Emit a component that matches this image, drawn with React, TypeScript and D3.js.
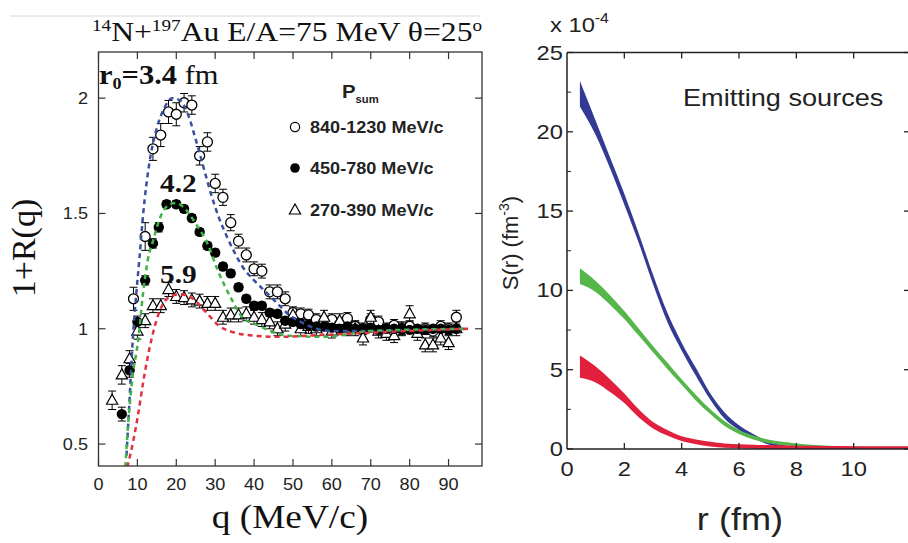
import React from "react";
import * as d3 from "d3";

// ---------- Left panel data: 1+R(q) ----------
const openQ = [9, 12, 14, 16, 18, 20, 22, 24, 26, 28, 30, 32, 34, 36, 38, 40, 42, 44, 46, 48, 50, 52, 54, 56, 58, 60, 62, 64, 66, 68, 70, 72, 74, 76, 78, 80, 82, 84, 86, 88, 90, 92];
const openV = [1.13, 1.4, 1.78, 1.84, 1.94, 1.93, 1.98, 1.97, 1.75, 1.81, 1.63, 1.57, 1.46, 1.38, 1.32, 1.26, 1.25, 1.16, 1.16, 1.13, 1.07, 1.065, 1.06, 1.04, 1.03, 1.04, 1.02, 1.045, 1.01, 1.0, 1.04, 1.03, 1.0, 1.015, 1.0, 1.01, 0.99, 1.0, 0.99, 1.01, 1.0, 1.05];
const openE = [0.05, 0.06, 0.05, 0.05, 0.05, 0.05, 0.04, 0.04, 0.04, 0.04, 0.04, 0.035, 0.035, 0.03, 0.03, 0.03, 0.03, 0.03, 0.03, 0.03, 0.025, 0.025, 0.025, 0.025, 0.025, 0.025, 0.025, 0.025, 0.025, 0.025, 0.025, 0.025, 0.025, 0.025, 0.025, 0.025, 0.025, 0.025, 0.025, 0.025, 0.025, 0.03];

const filledQ = [6, 8, 10, 12, 14, 15.5, 17.5, 20, 22, 24, 26, 28, 30, 32, 34, 36, 38, 40, 42, 44, 46, 48, 50, 52, 54, 56, 58, 60, 62, 64, 66, 68, 70, 72, 74, 76, 78, 80, 82, 84, 86, 88, 90, 92];
const filledV = [0.63, 0.82, 1.03, 1.21, 1.37, 1.44, 1.54, 1.54, 1.52, 1.48, 1.42, 1.36, 1.33, 1.27, 1.24, 1.18, 1.13, 1.1, 1.1, 1.07, 1.065, 1.035, 1.03, 1.02, 1.015, 1.01, 1.01, 1.005, 1.0, 1.01, 1.0, 1.0, 1.005, 0.995, 1.0, 1.0, 1.0, 0.995, 1.0, 0.995, 1.0, 1.0, 0.995, 1.0];
const filledE = [0.03, 0.03, 0.025, 0.02, 0.02, 0.02, 0.015, 0.015, 0.015, 0.015, 0.015, 0.015, 0.015, 0.015, 0.015, 0.015, 0.015, 0.015, 0.015, 0.015, 0.015, 0.015, 0.012, 0.012, 0.012, 0.012, 0.012, 0.012, 0.012, 0.012, 0.012, 0.012, 0.012, 0.012, 0.012, 0.012, 0.012, 0.012, 0.012, 0.012, 0.012, 0.012, 0.012, 0.012];

const triQ = [3.5, 6, 8, 10, 12, 14, 16, 18, 20, 22, 24, 26, 28, 30, 32, 34, 36, 38, 40, 42, 44, 46, 48, 50, 52, 54, 56, 58, 60, 62, 64, 66, 68, 70, 72, 74, 76, 78, 80, 82, 84, 86, 88, 90, 92];
const triV = [0.69, 0.8, 0.87, 0.99, 1.035, 1.1, 1.1, 1.17, 1.14, 1.135, 1.125, 1.12, 1.11, 1.11, 1.05, 1.06, 1.06, 1.065, 1.05, 1.04, 1.03, 1.0, 1.02, 1.06, 1.0, 1.01, 1.0, 1.05, 0.99, 1.035, 1.0, 1.0, 0.96, 1.05, 0.99, 0.98, 0.97, 1.0, 1.065, 0.98, 0.93, 0.93, 0.96, 0.94, 1.0];
const triE = [0.04, 0.04, 0.035, 0.035, 0.03, 0.03, 0.03, 0.03, 0.03, 0.03, 0.03, 0.03, 0.03, 0.03, 0.03, 0.03, 0.03, 0.03, 0.03, 0.03, 0.03, 0.03, 0.03, 0.03, 0.03, 0.03, 0.03, 0.03, 0.03, 0.03, 0.03, 0.03, 0.03, 0.03, 0.03, 0.03, 0.03, 0.03, 0.035, 0.03, 0.03, 0.03, 0.03, 0.03, 0.03];

// dashed model curves
const blueCurveQ = [7.2, 8.0, 8.8, 9.6, 10.5, 11.5, 13, 15, 17, 19, 21, 23, 25, 27, 29, 31, 33, 35, 37, 40, 43, 46, 49, 52, 56, 60, 70, 80, 95];
const blueCurveV = [0.45, 0.7, 0.95, 1.13, 1.3, 1.5, 1.71, 1.87, 1.96, 2.0, 1.99, 1.93, 1.82, 1.7, 1.58, 1.48, 1.4, 1.33, 1.27, 1.21, 1.16, 1.11, 1.06, 1.03, 1.0, 0.99, 0.99, 0.995, 1.0];
const greenCurveQ = [6.9, 7.3, 8.6, 10.2, 11.5, 12.7, 14, 15.8, 18.4, 20, 22, 25, 28, 30.5, 34, 37, 41, 45, 49, 58, 70, 95];
const greenCurveV = [0.4, 0.51, 0.77, 0.95, 1.16, 1.3, 1.38, 1.48, 1.54, 1.545, 1.525, 1.455, 1.37, 1.26, 1.135, 1.05, 1.015, 0.985, 0.97, 0.965, 0.99, 1.0];
const redCurveQ = [7.4, 8.9, 10.2, 11.5, 13.7, 15.8, 18.4, 21, 24.3, 28, 31, 34.6, 40, 46.7, 53.6, 66, 79, 95];
const redCurveV = [0.4, 0.51, 0.63, 0.77, 0.96, 1.08, 1.14, 1.15, 1.13, 1.065, 1.013, 0.985, 0.97, 0.965, 0.97, 0.98, 0.99, 1.0];

const qTicks = [0, 10, 20, 30, 40, 50, 60, 70, 80, 90];
const rqTicks = [0.5, 1, 1.5, 2];
const rqTickLabels = ["0.5", "1", "1.5", "2"];

const legendLabels = ["840-1230 MeV/c", "450-780 MeV/c", "270-390 MeV/c"];

// ---------- Right panel data: S(r) bands (x 10^-4 fm^-3) ----------
const bandR = [0.45, 1.0, 1.5, 2.0, 2.5, 3.0, 3.5, 4.0, 4.5, 5.0, 5.5, 6.0, 6.5, 7.0, 7.5, 8.0, 9.0, 10.0, 12.0];
const blueLow = [21.6, 19.8, 17.7, 15.4, 13.0, 10.4, 8.0, 6.2, 4.6, 3.1, 1.9, 1.2, 0.7, 0.3, 0.1, 0.02, 0.0, 0.0, 0.0];
const blueHigh = [23.2, 20.7, 18.4, 16.1, 13.6, 11.0, 8.6, 6.7, 5.1, 3.5, 2.3, 1.5, 0.95, 0.5, 0.25, 0.12, 0.08, 0.06, 0.05];
const greenLow = [10.4, 9.9, 9.1, 8.2, 7.15, 6.1, 5.05, 4.05, 3.05, 2.2, 1.45, 0.95, 0.6, 0.38, 0.25, 0.15, 0.06, 0.02, 0.0];
const greenHigh = [11.4, 10.6, 9.7, 8.7, 7.6, 6.5, 5.45, 4.4, 3.4, 2.5, 1.75, 1.2, 0.85, 0.6, 0.45, 0.35, 0.22, 0.15, 0.1];
const redLow = [4.5, 4.2, 3.6, 2.9, 2.0, 1.3, 0.85, 0.5, 0.3, 0.15, 0.08, 0.04, 0.02, 0.0, 0.0, 0.0, 0.0, 0.0, 0.0];
const redHigh = [5.9, 5.2, 4.4, 3.5, 2.5, 1.7, 1.2, 0.8, 0.6, 0.45, 0.35, 0.3, 0.27, 0.25, 0.23, 0.2, 0.19, 0.18, 0.18];

const rTicks = [0, 2, 4, 6, 8, 10];
const sTicks = [0, 5, 10, 15, 20, 25];
const sMinor = [2.5, 7.5, 12.5, 17.5, 22.5];

const SERIF = "'Liberation Serif', 'DejaVu Serif', serif";
const SANS = "'Liberation Sans', Arial, sans-serif";
const SX = 1.13; // horizontal stretch of the original picture

function Stretch({ x, y, children }: { x: number; y: number; children: React.ReactNode }) {
  return <g transform={`translate(${x},${y}) scale(${SX},1)`}>{children}</g>;
}

export default function App() {
  const W = 908, H = 543;
  // left scales
  const xL = d3.scaleLinear().domain([0, 98.6]).range([98.5, 482]);
  const yL = d3.scaleLinear().domain([0.405, 2.2]).range([466, 52]);
  // right scales
  const xR = d3.scaleLinear().domain([0, 12]).range([567, 911]);
  const yR = d3.scaleLinear().domain([0, 25]).range([449, 52.5]);

  const lineL = (qs: number[], vs: number[]) =>
    d3.line<number>().x((_, i) => xL(qs[i])).y((_, i) => yL(vs[i])).curve(d3.curveMonotoneX)(qs) || "";

  const band = (lo: number[], hi: number[]) =>
    d3.area<number>()
      .x((_, i) => xR(bandR[i]))
      .y0((_, i) => yR(lo[i]))
      .y1((_, i) => yR(hi[i]))
      .curve(d3.curveMonotoneX)(bandR) || "";

  const errBars = (qs: number[], vs: number[], es: number[], key: string) =>
    qs.map((q, i) => {
      const x = xL(q), y0 = yL(vs[i] - es[i]), y1 = yL(vs[i] + es[i]);
      return (
        <g key={key + i} stroke="#000" strokeWidth={1}>
          <line x1={x} x2={x} y1={y0} y2={y1} />
          <line x1={x - 4} x2={x + 4} y1={y0} y2={y0} />
          <line x1={x - 4} x2={x + 4} y1={y1} y2={y1} />
        </g>
      );
    });

  const tri = (cx: number, cy: number) => `M${cx},${cy - 6}L${cx + 5.6},${cy + 4}L${cx - 5.6},${cy + 4}Z`;

  const x0 = xL.range()[0], x1 = xL.range()[1], yb = yL.range()[0], yt = yL.range()[1];
  const rx0 = xR.range()[0], rx1 = xR.range()[1], ryb = yR.range()[0], ryt = yR.range()[1];

  const legendY = [127, 168, 210];

  return (
    <svg width={W} height={H} style={{ display: "block", position: "absolute", left: 0, top: 0, background: "#fff" }}>
      <defs>
        <clipPath id="clipL"><rect x={x0} y={yt} width={x1 - x0} height={yb - yt} /></clipPath>
        <clipPath id="clipR"><rect x={rx0} y={ryt} width={rx1 - rx0} height={ryb - ryt} /></clipPath>
      </defs>
      <rect x={0} y={0} width={W} height={H} fill="#fff" />
      <line x1={10} x2={480} y1={16} y2={16} stroke="#d8d8d8" strokeWidth={1} />

      {/* ---------- LEFT PANEL ---------- */}
      <Stretch x={92} y={41}>
        <text fontFamily={SERIF} fontSize={28} fill="#111">
          <tspan fontSize={17} dy={-10}>14</tspan>
          <tspan dy={10}>N+</tspan>
          <tspan fontSize={17} dy={-10}>197</tspan>
          <tspan dy={10}>Au E/A=75 MeV θ=25</tspan>
          <tspan fontSize={17} dy={-10}>o</tspan>
        </text>
      </Stretch>

      <g clipPath="url(#clipL)">
        {errBars(openQ, openV, openE, "oe")}
        {errBars(triQ, triV, triE, "te")}
        {errBars(filledQ, filledV, filledE, "fe")}
        {openQ.map((q, i) => (
          <circle key={"o" + i} cx={xL(q)} cy={yL(openV[i])} r={5} fill="#fff" stroke="#000" strokeWidth={1.3} />
        ))}
        {triQ.map((q, i) => (
          <path key={"t" + i} d={tri(xL(q), yL(triV[i]))} fill="#fff" stroke="#000" strokeWidth={1.2} />
        ))}
        {filledQ.map((q, i) => (
          <circle key={"f" + i} cx={xL(q)} cy={yL(filledV[i])} r={5.2} fill="#000" />
        ))}
        <path d={lineL(blueCurveQ, blueCurveV)} fill="none" stroke="#3a4f9e" strokeWidth={2.5} strokeDasharray="5,4" />
        <path d={lineL(greenCurveQ, greenCurveV)} fill="none" stroke="#3fb24a" strokeWidth={2.5} strokeDasharray="5,4" />
        <path d={lineL(redCurveQ, redCurveV)} fill="none" stroke="#e3303f" strokeWidth={2.5} strokeDasharray="5,4" />
      </g>

      {/* frame */}
      <rect x={x0} y={yt} width={x1 - x0} height={yb - yt} fill="none" stroke="#333" strokeWidth={1.3} />
      {qTicks.map((t) => (
        <g key={"qt" + t} stroke="#333" strokeWidth={1.2}>
          <line x1={xL(t)} x2={xL(t)} y1={yb} y2={yb - 7} />
          <line x1={xL(t)} x2={xL(t)} y1={yt} y2={yt + 7} />
        </g>
      ))}
      {rqTicks.map((t) => (
        <g key={"rt" + t} stroke="#333" strokeWidth={1.2}>
          <line x1={x0} x2={x0 + 7} y1={yL(t)} y2={yL(t)} />
          <line x1={x1} x2={x1 - 7} y1={yL(t)} y2={yL(t)} />
        </g>
      ))}
      {qTicks.map((t) => (
        <Stretch key={"ql" + t} x={xL(t)} y={490}>
          <text fontFamily={SANS} fontSize={16} textAnchor="middle" fill="#222">{t}</text>
        </Stretch>
      ))}
      {rqTicks.map((t, i) => (
        <Stretch key={"rl" + t} x={88} y={yL(t) + 6}>
          <text fontFamily={SANS} fontSize={16} textAnchor="end" fill="#222">{rqTickLabels[i]}</text>
        </Stretch>
      ))}
      <Stretch x={290} y={528}>
        <text fontFamily={SERIF} fontSize={33} textAnchor="middle" fill="#111">q (MeV/c)</text>
      </Stretch>
      <text transform="translate(35,248) rotate(-90)" fontFamily={SERIF} fontSize={34} textAnchor="middle" fill="#111">1+R(q)</text>

      {/* annotations */}
      <Stretch x={99} y={84}>
        <text fontFamily={SERIF} fontSize={27} fill="#111">
          <tspan fontWeight="bold">r</tspan>
          <tspan fontWeight="bold" fontSize={16} dy={5}>0</tspan>
          <tspan fontWeight="bold" dy={-5}>=3.4</tspan>
          <tspan> fm</tspan>
        </text>
      </Stretch>
      <Stretch x={160} y={192}>
        <text fontFamily={SERIF} fontSize={26} fontWeight="bold" fill="#111">4.2</text>
      </Stretch>
      <Stretch x={160} y={283}>
        <text fontFamily={SERIF} fontSize={26} fontWeight="bold" fill="#111">5.9</text>
      </Stretch>

      {/* legend */}
      <Stretch x={342} y={98}>
        <text fontFamily={SANS} fontSize={18} fontWeight="bold" fill="#222">
          P<tspan fontSize={10} dy={5}>sum</tspan>
        </text>
      </Stretch>
      <circle cx={295} cy={legendY[0]} r={4.6} fill="#fff" stroke="#000" strokeWidth={1.2} />
      <circle cx={295} cy={legendY[1]} r={4.8} fill="#000" />
      <path d={tri(295, legendY[2])} fill="#fff" stroke="#000" strokeWidth={1.2} />
      {legendLabels.map((l, i) => (
        <Stretch key={"lg" + i} x={310} y={legendY[i] + 6}>
          <text fontFamily={SANS} fontSize={16} fontWeight="bold" fill="#222">{l}</text>
        </Stretch>
      ))}

      {/* ---------- RIGHT PANEL ---------- */}
      <g clipPath="url(#clipR)">
        <path d={band(blueLow, blueHigh)} fill="#323a93" />
        <path d={band(greenLow, greenHigh)} fill="#55b64a" />
        <path d={band(redLow, redHigh)} fill="#e0203c" />
      </g>
      <line x1={rx0} x2={rx0} y1={ryt} y2={ryb} stroke="#222" strokeWidth={1.5} />
      <line x1={rx0} x2={rx1} y1={ryb} y2={ryb} stroke="#222" strokeWidth={1.5} />
      <line x1={rx0} x2={rx1} y1={ryt} y2={ryt} stroke="#222" strokeWidth={1.5} />
      {rTicks.filter((t) => t > 0).map((t) => (
        <g key={"rxt" + t} stroke="#222" strokeWidth={1.3}>
          <line x1={xR(t)} x2={xR(t)} y1={ryb} y2={ryb - 6} />
          <line x1={xR(t)} x2={xR(t)} y1={ryt} y2={ryt + 6} />
        </g>
      ))}
      {sTicks.map((t) => (
        <g key={"syt" + t} stroke="#222" strokeWidth={1.3}>
          <line x1={rx0} x2={rx0 + 6} y1={yR(t)} y2={yR(t)} />
          <line x1={rx1} x2={rx1 - 7} y1={yR(t)} y2={yR(t)} />
        </g>
      ))}
      {sMinor.map((t) => (
        <line key={"sm" + t} x1={rx0} x2={rx0 + 4} y1={yR(t)} y2={yR(t)} stroke="#222" strokeWidth={1} />
      ))}
      {rTicks.map((t) => (
        <Stretch key={"rxl" + t} x={xR(t)} y={476}>
          <text fontFamily={SANS} fontSize={21} textAnchor="middle" fill="#222">{t}</text>
        </Stretch>
      ))}
      {sTicks.map((t) => (
        <Stretch key={"syl" + t} x={563} y={yR(t) + 7}>
          <text fontFamily={SANS} fontSize={21} textAnchor="end" fill="#222">{t}</text>
        </Stretch>
      ))}
      <Stretch x={550} y={32}>
        <text fontFamily={SANS} fontSize={21} fill="#222">
          x 10<tspan fontSize={14} dy={-9}>-4</tspan>
        </text>
      </Stretch>
      <Stretch x={683} y={106}>
        <text fontFamily={SANS} fontSize={24} fill="#222">Emitting sources</text>
      </Stretch>
      <Stretch x={740} y={530}>
        <text fontFamily={SANS} fontSize={32} textAnchor="middle" fill="#222">r (fm)</text>
      </Stretch>
      <text transform="translate(518,243) rotate(-90)" fontFamily={SANS} fontSize={22} textAnchor="middle" fill="#222">
        S(r) (fm<tspan fontSize={14} dy={-9}>-3</tspan><tspan dy={9}>)</tspan>
      </text>
    </svg>
  );
}
